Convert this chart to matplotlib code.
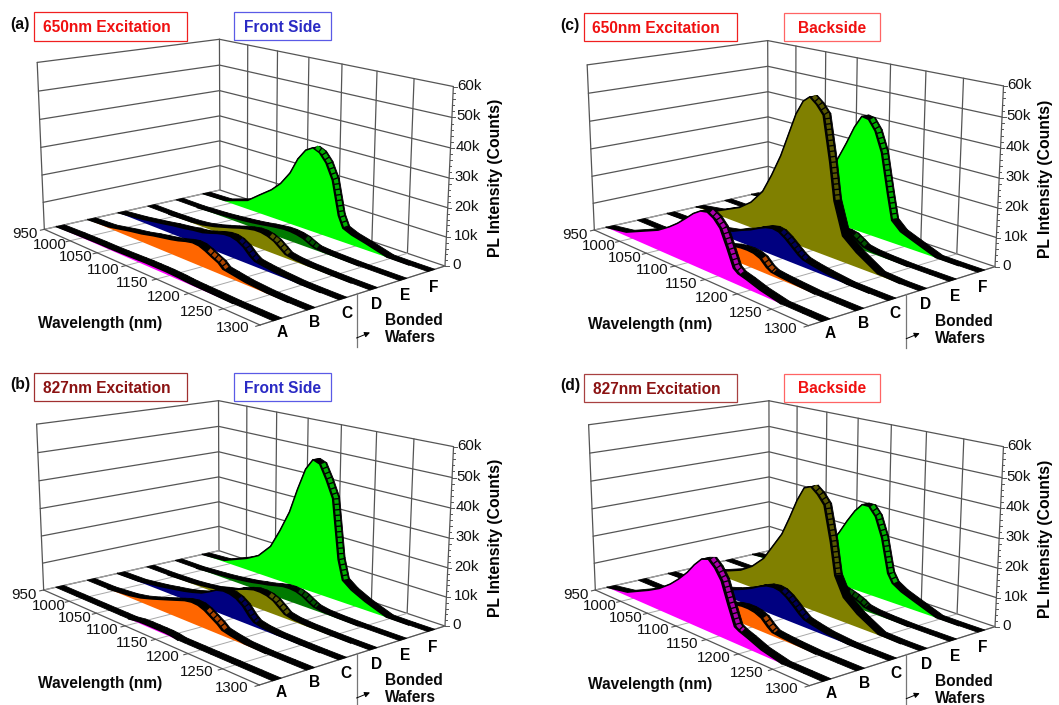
import numpy as np
import matplotlib
matplotlib.use("Agg")
import matplotlib.pyplot as plt
from matplotlib.collections import PolyCollection
from matplotlib.patches import Rectangle

plt.rcParams['font.family'] = ['Liberation Sans', 'DejaVu Sans']

WAVELENGTH = [950,990,1030,1050,1070,1085,1100,1112,1124,1135,1145,1155,1165,1175,1182,1195,1215,1245,1275,1300]
WAFERS = ['A','B','C','D','E','F']
COLORS = ['#ff00ff','#ff6600','#000080','#808000','#007a00','#00ff00']
WL_TICKS = [950,1000,1050,1100,1150,1200,1250,1300]
COUNT_TICKS = [0,10,20,30,40,50,60]
COUNT_LABELS = ['0','10k','20k','30k','40k','50k','60k']

# intensity in thousands of counts
a_A = [0,.3,.5,.5,.6,.7,.8,.9,.9,.9,.9,.8,.7,.5,.4,.3,.2,0,0,0]
a_B = [0,.5,2.2,2.9,3.9,4.5,5.1,5.7,6.5,7,6.8,5.9,4.7,3.6,2.1,1.6,.8,.2,0,0]
a_C = [0,1,2.4,3.2,3.8,4.4,4.8,5.6,6.5,7.1,7.2,6.6,5.2,2.9,1.8,1.3,.7,.1,0,0]
a_D = [0,0,.3,.8,1.8,2.8,3.8,4.7,5.4,5.9,5.9,5.4,4.4,2.6,1.3,.7,.3,.1,0,0]
a_E = [0,0,.5,.9,1.4,1.8,2.3,2.8,3.2,3.5,3.5,3.2,2.6,1.4,.7,.4,.2,0,0,0]
a_F = [0,.3,3.4,7,10.5,14,19,25,29,30.6,29.5,26.5,21,9,5,3.6,2.3,.1,0,0]

b_A = [0,0,0,0,0,0,.5,.6,.6,.6,.6,.4,0,0,0,0,0,0,0,0]
b_B = [0,0,.8,1.6,2.9,4,5.1,6,6.9,7.3,7.1,6.2,4.7,3.2,1.8,1.1,.3,0,0,0]
b_C = [0,.2,1.4,2.2,3,3.8,4.8,6.2,7.8,8.4,8.2,7.4,5.7,2.9,1.5,.8,.3,.1,0,0]
b_D = [0,0,.3,.7,1.3,2.2,3,4.4,5.4,6.1,6.1,5.7,4.7,2.8,1.4,.7,.3,.1,0,0]
b_E = [0,0,.6,1,1.6,2.1,2.8,3.3,4,4.6,4.7,4.4,3.5,2,1.1,.5,.2,0,0,0]
b_F = [0,.6,4.4,7,12,19,27,36,44,48,47,42,36,15,8,5.5,3,.1,0,0]

c_A = [0,1.5,5.3,7.2,10,12.5,15.5,18,19.8,20.3,19,16.5,11,5,3.8,3,1.5,0,0,0]
c_B = [0,0,.5,1,1.6,2.4,3.4,4.2,5,5.4,5.5,5.3,4.4,2.2,1.3,.9,.5,0,0,0]
c_C = [0,.2,1,2,3,4.6,6,7.5,8.8,9.4,9,7.5,5.5,3.5,2.5,1.8,1,.1,0,0]
c_D = [0,1.6,6,9.5,15,22,30,38,46,51,53,51,48,33,20,9,5,.5,0,0]
c_E = [0,0,.5,1,1.5,2,2.6,3.2,3.8,4.3,4.5,4.5,4,2.5,1.3,.7,.3,0,0,0]
c_F = [0,1,4,7,12,18,25,31,37.5,42,41.5,38,31,17,8,5,3,.1,0,0]

d_A = [0,1.5,5.5,7.8,11,14,17.5,21,23.8,24.6,22.5,19,12,5.5,4.6,3.5,1.6,0,0,0]
d_B = [0,0,.6,1.2,2,3,4,4.8,5.6,6,6,5.6,4.6,2.4,1.2,.8,.4,0,0,0]
d_C = [0,.3,1.2,2.2,3.6,5,6.6,8.2,9.4,9.8,9.4,8,6,3.8,2.6,1.8,.8,.1,0,0]
d_D = [0,1.4,5,8,12.5,18,23.5,30,37,42,43,41,38,26,15,8.5,4.5,.3,0,0]
d_E = [0,0,.5,1,1.6,2.4,3.4,4.4,5.2,5.5,5,4.3,3.5,2.4,1.3,.7,.3,0,0,0]
d_F = [0,.8,3,5.5,9,14,19.5,24.5,29,32,32,29,22,10,7,5,3,.1,0,0]

SERIES = {'a':[a_A,a_B,a_C,a_D,a_E,a_F],'b':[b_A,b_B,b_C,b_D,b_E,b_F],
          'c':[c_A,c_B,c_C,c_D,c_E,c_F],'d':[d_A,d_B,d_C,d_D,d_E,d_F]}

# view geometry of each panel (pixels): floor corners L,F,R,B and wall tops above L,B,R
def z(x,y,ox,oy): return (x/3+ox, y/3+oy)
VIEW = {
 'a':[z(*p,0,0)   for p in [(133,688),(780,975),(1335,798),(660,570),(112,190),(658,115),(1360,260)]],
 'b':[z(*p,0,360) for p in [(131,690),(778,975),(1335,798),(657,572),(110,195),(656,118),(1360,262)]],
 'c':[z(*p,540,0) for p in [(163,690),(805,977),(1365,800),(685,572),(142,195),(683,118),(1390,262)]],
 'd':[z(*p,540,360) for p in [(166,690),(808,977),(1365,800),(688,572),(146,195),(687,120),(1390,262)]],
}
OFFSET = {'a':(0,0),'b':(0,360),'c':(549.7,.7),'d':(549.7,360.7)}
DARK='#8b1212'; RED='#f01010'; BLUE='#2a2ac4'
BOXES = {
 'a':[('650nm Excitation',RED,'#f02020',103,37,560,122),('Front Side',BLUE,'#5a5ae6',703,36,992,120)],
 'b':[('827nm Excitation',DARK,'#a03030',103,40,560,124),('Front Side',BLUE,'#5a5ae6',703,40,992,123)],
 'c':[('650nm Excitation',RED,'#f02020',132,40,590,124),('Backside',RED,'#ff6464',732,40,1021,124)],
 'd':[('827nm Excitation',DARK,'#a84040',132,43,590,127),('Backside',RED,'#ff6464',732,41,1021,125)],
}
DV = 0.021

def calibrate(view):
    L,F,R,B,Lt,Bt,Rt = [np.array(p,float) for p in view]
    d1=F-R; d2=B-R; s=L-F+R-B
    det=d1[0]*d2[1]-d1[1]*d2[0]
    g=(s[0]*d2[1]-s[1]*d2[0])/det
    h=(d1[0]*s[1]-d1[1]*s[0])/det
    pu=np.r_[F*(1+g)-L,g]; pv=np.r_[B*(1+h)-L,h]; p1=np.r_[L,1.]
    A=[];y=[]
    for (uu,vv,T) in [(0,0,Lt),(0,1,Bt),(1,1,Rt)]:
        q=pu*uu+pv*vv+p1
        A.append([1,0,-T[0]]); y.append(T[0]*q[2]-q[0])
        A.append([0,1,-T[1]]); y.append(T[1]*q[2]-q[1])
    ph=np.linalg.lstsq(np.array(A),np.array(y),rcond=None)[0]
    return np.column_stack([pu,pv,ph,p1])

def project(P,lam,v,kcounts):
    lam=np.asarray(lam,float); kcounts=np.asarray(kcounts,float)
    v=np.broadcast_to(v,np.broadcast(lam,kcounts).shape)
    X=np.stack([(lam-950)/350,v,kcounts/60,np.ones_like(v,dtype=float)])
    q=P@X.reshape(4,-1)
    return (q[0]/q[2]).reshape(v.shape),(q[1]/q[2]).reshape(v.shape)

def mix(c,f):
    r=np.array(matplotlib.colors.to_rgb(c)); return tuple(r*f)

fig=plt.figure(figsize=(10.59,7.05),dpi=100)
ax=fig.add_axes([0,0,1,1]); ax.set_xlim(0,1059); ax.set_ylim(705,0); ax.axis('off')
GRID='#555555'

def draw_panel(key):
    P=calibrate(VIEW[key]); ox,oy=OFFSET[key]
    kw=dict(color=GRID,lw=0.9,solid_capstyle='round',zorder=1)
    for t in COUNT_TICKS:
        ax.plot(*project(P,[950,950],[0,1],[t,t]),**kw)
        ax.plot(*project(P,[950,1300],[1,1],[t,t]),**kw)
    for wl in WL_TICKS:
        ax.plot(*project(P,[wl,wl],[1,1],[0,60]),**kw)
        x,y=project(P,[wl,wl],[0,1],[0,0]); ax.plot(x,y,color='#a8a8a8',lw=.7,zorder=1)
        x,y=project(P,[wl,wl],[0,-.02],[0,0]); ax.plot(x,y,color=GRID,lw=.8,zorder=1)
    ax.plot(*project(P,[950,950],[0,0],[0,60]),**kw)
    ax.plot(*project(P,[950,1300],[0,0],[0,0]),**kw)
    ax.plot(*project(P,[1300,1300],[0,1],[0,0]),**kw)
    for t in range(0,61,2):
        x,y=project(P,1300,1,t)
        ln=3.5 if t%10==0 else 1.8
        ax.plot([x,x+ln],[y,y],color=GRID,lw=.7,zorder=1)
    for t,s in zip(COUNT_TICKS,COUNT_LABELS):
        x,y=project(P,1300,1,t)
        ax.text(x+(23-11*t/60)/3,y-1,s,fontsize=10.8,ha='left',va='center',color='#111111')
    for wl in WL_TICKS:
        u=(wl-950)/350
        x,y=project(P,wl,0,0)
        ax.text(x-19.3-8*u,y+5-1.7*u,str(wl),fontsize=10.8,ha='center',va='center',color='#111111')
    for k,name in enumerate(WAFERS):
        v=(k+.5)/6
        x,y=project(P,1300,v,0)
        ax.text(x+4.7-3*v,y+13+4*v,name,fontsize=11.2,fontweight='bold',ha='center',va='center')
    # series, back to front
    wl=np.array(WAVELENGTH,float)
    for k in range(5,-1,-1):
        I=np.array(SERIES[key][k],float); v=(k+.5)/6; col=COLORS[k]
        x0,y0=project(P,wl,v-DV,I); x1,y1=project(P,wl,v+DV,I)
        quads=[[(x0[i],y0[i]),(x0[i+1],y0[i+1]),(x1[i+1],y1[i+1]),(x1[i],y1[i])] for i in range(len(wl)-1)]
        ax.add_collection(PolyCollection(quads,facecolors='k',edgecolors='k',linewidths=.6,zorder=3+(5-k)*3))
        xb,yb=project(P,wl,v-DV,0*I)
        idx=np.where(I>0)[0]
        if len(idx):
            lo=max(idx[0]-1,0); hi=min(idx[-1]+1,len(wl)-1)
            ax.fill(np.r_[x0[lo:hi+1],xb[lo:hi+1][::-1]],np.r_[y0[lo:hi+1],yb[lo:hi+1][::-1]],
                    facecolor=col,edgecolor='none',zorder=4+(5-k)*3)
            ax.plot(x0[lo:hi+1],y0[lo:hi+1],color='k',lw=1.1,zorder=4+(5-k)*3,solid_joinstyle='round')
        # mesh cells of the ribbon on the falling slope, from near the peak to the shoulder
        slope=np.diff(I)/np.diff(wl)
        j=int(np.argmin(slope))
        if slope[j]<-0.09:
            thr=slope[j]*(0.5 if I.max()<12 else 0.06)
            a=j
            while a>0 and slope[a-1]<thr: a-=1
            b=j
            while b<len(slope)-1 and slope[b+1]<thr and wl[b+2]<=1182: b+=1
            sx,sy=project(P,wl[a:b+2],v,I[a:b+2])
            ax.plot(sx,sy,color=mix(col,.68),lw=3.0,ls=(0,(1.0,.32)),dash_capstyle='butt',zorder=5+(5-k)*3)
    # fixed texts
    tk=dict(fontsize=11.2,fontweight='bold',ha='left',va='center',color='#0a0a0a')
    ax.text(38.5+ox,323.5+oy,'Wavelength (nm)',**tk)
    ax.text(385+ox,320.5+oy,'Bonded',**tk)
    ax.text(385+ox,337.5+oy,'Wafers',**tk)
    ax.text(495.7+ox,178+oy,'PL Intensity (Counts)',rotation=90,fontsize=11.3,fontweight='bold',ha='center',va='center')
    ax.plot([356.7+ox,356.7+ox],[293+oy,347+oy],color='#777777',lw=.9,zorder=2)
    ax.annotate('',xy=(370+ox,332.5+oy),xytext=(356.5+ox,338+oy),
                arrowprops=dict(arrowstyle='-|>',mutation_scale=8,lw=.7,color='k',shrinkA=0,shrinkB=0))
    ax.text(10.5+ox,25+oy,'(%s)'%key,fontsize=11.3,fontweight='bold',ha='left',va='center',color='#0a0a0a')
    for (s,tc,ec,x0,y0,x1,y1) in BOXES[key]:
        X0,Y0=z(x0,y0,540 if key in 'cd' else 0,360 if key in 'bd' else 0)
        X1,Y1=z(x1,y1,540 if key in 'cd' else 0,360 if key in 'bd' else 0)
        ax.add_patch(Rectangle((X0,Y0),X1-X0,Y1-Y0,fc='white',ec=ec,lw=.9,zorder=60))
        ax.text((X0+X1)/2-(4 if 'Exc' in s else 0),(Y0+Y1)/2+1,s,color=tc,fontsize=11.2,fontweight='bold',ha='center',va='center',zorder=61)

for key in 'abcd':
    draw_panel(key)

fig.savefig('out.png',dpi=100,facecolor='white')
